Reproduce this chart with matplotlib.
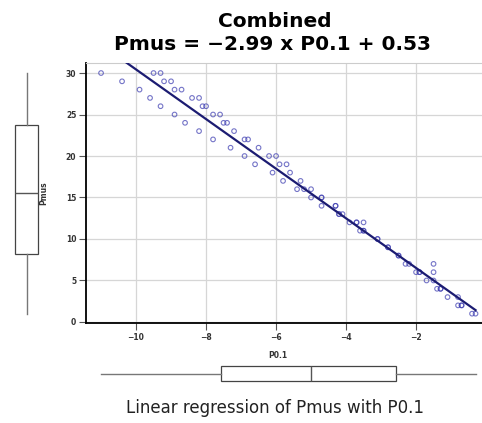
import numpy as np
import matplotlib.pyplot as plt

# ---- data ----
slope = -2.99
intercept = 0.53

pmus = [30, 30, 30, 29, 29, 29, 28, 28, 28, 27, 27, 27, 26, 26, 26,
        25, 25, 25, 24, 24, 24, 23, 23, 22, 22, 22, 21, 21, 20, 20, 20,
        19, 19, 19, 18, 18, 17, 17, 16, 16, 16, 15, 15, 15, 14, 14, 14,
        13, 13, 13, 12, 12, 12, 12, 11, 11, 11, 10, 10, 9, 9, 8, 8,
        7, 7, 7, 6, 6, 6, 6, 5, 5, 4, 4, 4, 3, 3, 2, 2, 2, 1, 1]
p01 = [-11.0, -9.5, -9.3, -10.4, -9.2, -9.0, -9.9, -8.9, -8.7, -9.6, -8.4, -8.2,
       -9.3, -8.1, -8.0, -8.9, -7.8, -7.6, -8.6, -7.5, -7.4, -8.2, -7.2,
       -7.8, -6.9, -6.8, -7.3, -6.5, -6.9, -6.2, -6.0,
       -6.6, -5.9, -5.7, -6.1, -5.6, -5.8, -5.3, -5.4, -5.2, -5.0,
       -5.0, -4.7, -4.7, -4.7, -4.3, -4.3, -4.2, -4.2, -4.1,
       -3.9, -3.7, -3.7, -3.5, -3.6, -3.5, -3.5, -3.1, -3.1, -2.8, -2.8,
       -2.5, -2.5, -2.3, -2.2, -1.5, -2.0, -1.9, -1.9, -1.5, -1.7, -1.5,
       -1.4, -1.3, -1.3, -1.1, -0.8, -0.8, -0.7, -0.7, -0.4, -0.3]

x_ticks = [-10, -8, -6, -4, -2]
y_ticks = [0, 5, 10, 15, 20, 25, 30]

W, H = 482, 423
fig = plt.figure(figsize=(W / 100, H / 100), dpi=100)


def px_axes(l, t, r, b):
    return fig.add_axes([l / W, 1 - b / H, (r - l) / W, (b - t) / H])


xlim = (-11.43, 0.13)
ylim = (-0.16, 31.16)

# ---- main scatter ----
ax = px_axes(86, 63.4, 490.6, 323.3)
ax.scatter(p01, pmus, s=11, facecolors='none', edgecolors='#3a3ab0',
           linewidths=0.8, alpha=0.7, zorder=3)
xl = np.array([min(p01), max(p01)])
ax.plot(xl, slope * xl + intercept, color='#1c1c72', lw=1.6, zorder=4)
ax.set_xlim(xlim)
ax.set_ylim(ylim)
ax.set_xticks(x_ticks)
ax.set_yticks(y_ticks)
ax.grid(color='#d6d6d6', lw=0.9)
ax.set_axisbelow(True)
for s in ['left', 'bottom']:
    ax.spines[s].set_color('black')
    ax.spines[s].set_linewidth(1.3)
ax.spines['top'].set_color('#cccccc')
ax.spines['top'].set_linewidth(0.8)
ax.spines['right'].set_visible(False)
ax.tick_params(length=5, width=0.8, color='#555555', pad=2,
               labelsize=5.5, labelcolor='#333333')
for lab in ax.get_xticklabels() + ax.get_yticklabels():
    lab.set_fontweight('bold')
ax.set_xlabel('P0.1', fontsize=5.5, fontweight='bold', color='#333333')
ax.xaxis.set_label_coords(0.4745, -0.105)
ax.set_ylabel('Pmus', fontsize=5.5, fontweight='bold', color='#333333')
ax.yaxis.set_label_coords(-0.094, 0.5)

box_style = dict(showcaps=False, showfliers=False, patch_artist=True,
                 boxprops=dict(facecolor='white', edgecolor='#444444', lw=0.9),
                 whiskerprops=dict(color='#777777', lw=1.0),
                 medianprops=dict(color='#555555', lw=1.0))

# ---- left boxplot (Pmus) ----
axl = px_axes(5, 63.4, 48, 323.3)
axl.boxplot(pmus, positions=[0.5], widths=0.535, **box_style)
axl.set_xlim(0, 1)
axl.set_ylim(ylim)
axl.axis('off')

# ---- bottom boxplot (P0.1) ----
axb = px_axes(86, 362, 490.6, 385)
axb.boxplot(p01, positions=[0.5], widths=0.665, orientation='horizontal',
            **box_style)
axb.set_ylim(0, 1)
axb.set_xlim(xlim)
axb.axis('off')

# ---- titles ----
fig.text(275 / W, 1 - 27 / H, 'Combined', ha='center', va='baseline',
         fontsize=14.5, fontweight='bold', family='DejaVu Sans')
fig.text(272.5 / W, 1 - 50 / H,
         f'Pmus = \u2212{abs(slope):.2f} x P0.1 + {intercept:.2f}',
         ha='center', va='baseline', fontsize=14.5, fontweight='bold',
         family='DejaVu Sans')
fig.text(275 / W, 1 - 408 / H, 'Linear regression of Pmus with P0.1',
         ha='center', va='center', fontsize=12, color='#222222',
         family='DejaVu Sans')

fig.savefig('out.png', dpi=100)
